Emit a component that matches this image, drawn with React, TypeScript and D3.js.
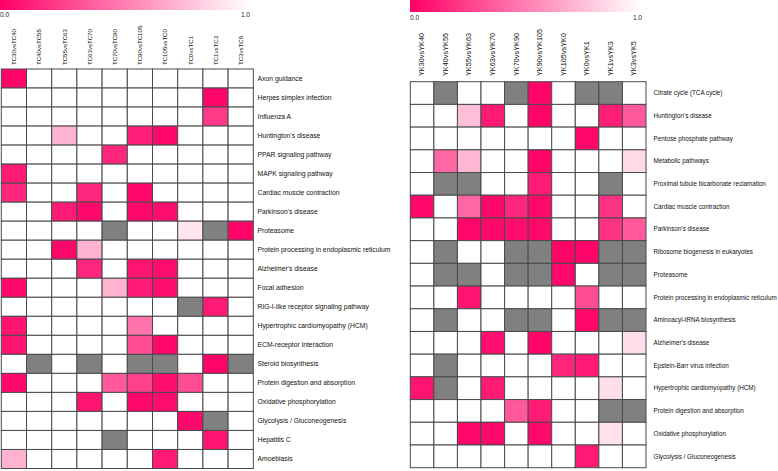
import React from "react";
import * as d3 from "d3";

const G = null;

const leftCols = ["TC30vsTC40","TC40vsTC55","TC55vsTC63","TC63vsTC70","TC70vsTC90","TC90vsTC105","TC105vsTC0","TC0vsTC1","TC1vsTC3","TC3vsTC5"];
const leftRows = ["Axon guidance","Herpes simplex infection","Influenza A","Huntington's disease","PPAR signaling pathway","MAPK signaling pathway","Cardiac muscle contraction","Parkinson's disease","Proteasome","Protein processing in endoplasmic reticulum","Alzheimer's disease","Focal adhesion","RIG-I-like receptor signaling pathway","Hypertrophic cardiomyopathy (HCM)","ECM-receptor interaction","Steroid biosynthesis","Protein digestion and absorption","Oxidative phosphorylation","Glycolysis / Gluconeogenesis","Hepatitis C","Amoebiasis"];
const leftValues: (number | null)[][] = [
  [0.02,1,1,1,1,1,1,1,1,1],
  [1,1,1,1,1,1,1,1,0.02,1],
  [1,1,1,1,1,1,1,1,0.22,1],
  [1,1,0.7,1,1,0.12,0.03,1,1,1],
  [1,1,1,1,0.15,1,1,1,1,1],
  [0.1,1,1,1,1,1,1,1,1,1],
  [0.15,1,1,0.15,1,0.03,1,1,1,1],
  [1,1,0.1,0.03,1,0.03,0.05,1,1,1],
  [1,1,1,1,G,1,1,0.9,G,0.02],
  [1,1,0.03,0.7,1,1,1,1,1,1],
  [1,1,1,0.15,1,0.08,0.05,1,1,1],
  [0.03,1,1,1,0.7,0.1,0.05,1,1,1],
  [1,1,1,1,1,1,1,G,0.1,1],
  [0.08,1,1,1,1,0.45,1,1,1,1],
  [0.08,1,1,1,1,0.3,0.03,1,1,1],
  [1,G,1,G,1,G,G,1,0.02,G],
  [0.03,1,1,1,0.35,0.25,0.05,0.3,1,1],
  [1,1,1,0.08,1,0.03,0.05,1,1,1],
  [1,1,1,1,1,1,1,0.03,G,1],
  [1,1,1,1,G,1,1,1,0.08,1],
  [0.7,1,1,1,1,1,0.1,1,1,1],
];

const rightCols = ["YK30vsYK40","YK40vsYK55","YK55vsYK63","YK63vsYK70","YK70vsYK90","YK90vsYK105","YK105vsYK0","YK0vsYK1","YK1vsYK3","YK3vsYK5"];
const rightRows = ["Citrate cycle (TCA cycle)","Huntington's disease","Pentose phosphate pathway","Metabolic pathways","Proximal tubule bicarbonate reclamation","Cardiac muscle contraction","Parkinson's disease","Ribosome biogenesis in eukaryotes","Proteasome","Protein processing in endoplasmic reticulum","Aminoacyl-tRNA biosynthesis","Alzheimer's disease","Epstein-Barr virus infection","Hypertrophic cardiomyopathy (HCM)","Protein digestion and absorption","Oxidative phosphorylation","Glycolysis / Gluconeogenesis"];
const rightValues: (number | null)[][] = [
  [1,G,1,1,G,0.02,1,G,G,1],
  [1,1,0.75,0.1,1,0.02,1,1,0.12,0.35],
  [1,1,1,1,1,1,1,0.03,1,1],
  [1,0.4,0.72,1,1,0.02,1,1,1,0.85],
  [1,G,G,1,1,0.1,1,1,G,1],
  [0.03,1,0.4,0.03,0.15,0.03,1,1,0.2,1],
  [1,1,0.03,0.03,0.05,0.03,1,1,0.2,0.35],
  [1,G,1,1,G,G,0.02,0.02,G,G],
  [1,G,G,1,G,G,0.03,1,G,G],
  [1,1,0.08,1,1,1,1,0.3,1,1],
  [1,G,1,1,G,G,1,0.03,G,G],
  [1,1,1,0.06,1,0.02,1,1,1,0.87],
  [1,G,1,1,1,1,0.15,0.1,1,1],
  [0.08,G,1,0.1,1,1,1,1,0.87,1],
  [1,1,1,1,0.35,0.1,1,1,G,G],
  [1,1,0.03,0.03,1,0.03,1,1,0.88,1],
  [1,1,1,1,1,1,1,0.1,1,1],
];

const scaleTicks = ["0.0", "1.0"];

const color = d3.scaleLinear<string>().domain([0, 1]).range(["#ff0066", "#ffffff"]);
const FONT = "'Liberation Sans', Arial, sans-serif";

type HMProps = {
  id: string;
  cols: string[];
  rows: string[];
  values: (number | null)[][];
  x0: number; x1: number; y0: number; y1: number;
  barX0: number; barX1: number; barH: number; tickY: number;
  colLabelBottom: number; colFont: number; rowFont: number; rowLabelX: number;
};

function Heatmap(p: HMProps) {
  const x = d3.scaleBand<number>().domain(d3.range(p.cols.length)).range([p.x0, p.x1]);
  const y = d3.scaleBand<number>().domain(d3.range(p.rows.length)).range([p.y0, p.y1]);
  return (
    <g>
      <defs>
        <linearGradient id={p.id} x1="0" x2="1" y1="0" y2="0">
          <stop offset="0%" stopColor={color(0)} />
          <stop offset="100%" stopColor={color(1)} />
        </linearGradient>
      </defs>
      <rect x={p.barX0} y={0} width={p.barX1 - p.barX0} height={p.barH} fill={`url(#${p.id})`} />
      <text x={p.barX0} y={p.tickY} fontSize={6.5} fontFamily={FONT} fill="#222">{scaleTicks[0]}</text>
      <text x={p.barX1} y={p.tickY} fontSize={6.5} fontFamily={FONT} fill="#222" textAnchor="end">{scaleTicks[1]}</text>
      {p.cols.map((c, i) => {
        const cx = (x(i) as number) + x.bandwidth() / 2;
        return (
          <text key={c} transform={`translate(${cx + 2.2},${p.colLabelBottom}) rotate(-90)`} fontSize={p.colFont} fontFamily={FONT} fill="#111">{c}</text>
        );
      })}
      {p.values.map((row, ri) =>
        row.map((v, ci) => (
          <rect key={`${ri}-${ci}`} x={x(ci)} y={y(ri)} width={x.bandwidth()} height={y.bandwidth()}
            fill={v === null ? "#808080" : color(v)} stroke="#4a4a4a" strokeWidth={1} />
        ))
      )}
      {p.rows.map((r, i) => (
        <text key={r + i} x={p.rowLabelX} y={(y(i) as number) + y.bandwidth() / 2} dy="0.35em" fontSize={p.rowFont} fontFamily={FONT} fill="#111">{r}</text>
      ))}
    </g>
  );
}

export default function App() {
  return (
    <svg width={778} height={471} style={{ position: "absolute", left: 0, top: 0, background: "#fff" }}>
      <Heatmap id="gl" cols={leftCols} rows={leftRows} values={leftValues}
        x0={1.3} x1={253.3} y0={69} y1={468.5}
        barX0={0} barX1={250} barH={10} tickY={16.5}
        colLabelBottom={65} colFont={6.1} rowFont={6.8} rowLabelX={257.5} />
      <Heatmap id="gr" cols={rightCols} rows={rightRows} values={rightValues}
        x0={410.3} x1={646} y0={81.7} y1={467.7}
        barX0={410} barX1={642} barH={12} tickY={20}
        colLabelBottom={76} colFont={7.3} rowFont={6.3} rowLabelX={653.5} />
    </svg>
  );
}
